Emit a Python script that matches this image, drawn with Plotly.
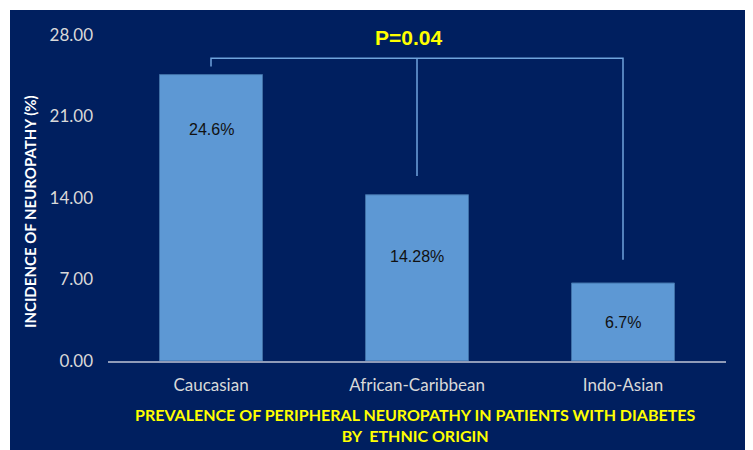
import plotly.graph_objects as go

categories = ["Caucasian", "African-Caribbean", "Indo-Asian"]
values = [24.6, 14.28, 6.7]
value_labels = ["24.6%", "14.28%", "6.7%"]
label_y = [19.9, 9.0, 3.3]
y_ticks = [0, 7, 14, 21, 28]
bracket_top = 26.0
bracket_ends = [25.3, 15.9, 8.7]
p_text = "P=0.04"
y_title = "INCIDENCE OF NEUROPATHY (%)"
x_title = "PREVALENCE OF PERIPHERAL NEUROPATHY IN PATIENTS WITH DIABETES<br>BY  ETHNIC ORIGIN"

BG = "#001f5f"
W, H = 745, 442
ML, MR, MT, MB = 100, 27, 27, 89
PW, PH = W - ML - MR, H - MT - MB

fig = go.Figure()
fig.add_trace(go.Bar(
    x=categories, y=values,
    marker=dict(color="#5d98d4", line=dict(color="#3f6fa6", width=1)),
    width=0.5, hoverinfo="skip", showlegend=False,
))

# significance bracket
bx, by = [], []
bx += [categories[0], categories[0], categories[2], categories[2], None]
by += [bracket_ends[0], bracket_top, bracket_top, bracket_ends[2], None]
bx += [categories[1], categories[1]]
by += [bracket_top, bracket_ends[1]]
fig.add_trace(go.Scatter(
    x=bx, y=by, mode="lines", connectgaps=False,
    line=dict(color="#6fa3dc", width=1.5), hoverinfo="skip", showlegend=False,
))

for c, ly, t in zip(categories, label_y, value_labels):
    fig.add_annotation(x=c, y=ly, text=t, showarrow=False,
                       font=dict(family="Liberation Sans, Arial", size=16, color="#111111"))

fig.add_annotation(x=categories[1], y=27.75, text="<b>" + p_text + "</b>", showarrow=False,
                   xshift=-9,
                   font=dict(family="Liberation Sans, Arial", size=21, color="#ffff00"))

fig.add_annotation(xref="paper", yref="paper", x=(30 - 108) / PW, y=(361 - 212) / PH,
                   xanchor="center", yanchor="middle",
                   text="<b>" + y_title + "</b>", textangle=-90, showarrow=False,
                   font=dict(family="Lato, Open Sans", size=15, color="#ffffff"))

fig.add_annotation(xref="paper", yref="paper", x=(415 - 108) / PW, y=(361 - 425) / PH,
                   xanchor="center", yanchor="middle",
                   text="<b>" + x_title + "</b>", showarrow=False, align="center",
                   font=dict(family="Lato, Open Sans", size=16, color="#ffff00"))

# white strips at top and left (outside the dark panel)
fig.add_shape(type="rect", xref="paper", yref="paper", layer="below",
              x0=(2 - ML) / PW, x1=(W - ML) / PW, y0=(PH + MT - 2) / PH, y1=(PH + MT) / PH,
              fillcolor="white", line=dict(width=0))
fig.add_shape(type="rect", xref="paper", yref="paper", layer="below",
              x0=-ML / PW, x1=(2 - ML) / PW, y0=-MB / PH, y1=(PH + MT) / PH,
              fillcolor="white", line=dict(width=0))

fig.update_layout(
    width=W, height=H,
    margin=dict(l=ML, r=MR, t=MT, b=MB, pad=0),
    paper_bgcolor=BG, plot_bgcolor=BG,
    bargap=0.5,
    xaxis=dict(showline=True, linecolor="#8f9bb8", linewidth=2, showgrid=False,
               ticks="", tickfont=dict(family="Lato, Open Sans", size=17, color="#d9d9d9"),
               ticklabelstandoff=8),
    yaxis=dict(range=[0, 28], tickvals=y_ticks, tickformat=".2f", showgrid=False,
               zeroline=False, showline=False, ticks="",
               tickfont=dict(family="Lato, Open Sans", size=17, color="#d9d9d9"),
               ticklabelstandoff=14),
)

fig.write_html("out.html")
